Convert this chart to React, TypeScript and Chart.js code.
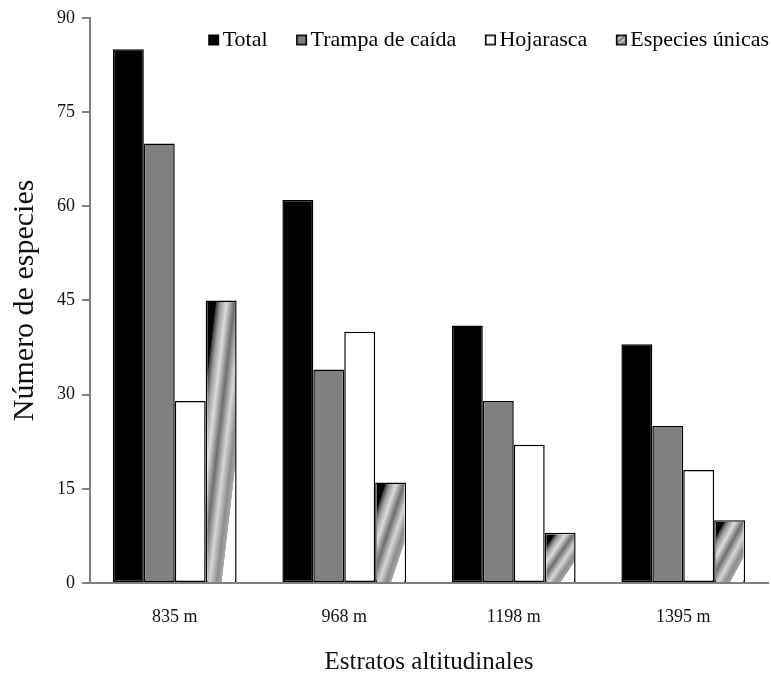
import React, { useEffect, useRef } from 'react';
import { Chart, registerables } from 'chart.js';

Chart.register(...registerables);

// ---- data ----
const categories = ['835 m', '968 m', '1198 m', '1395 m'];
const seriesNames = ['Total', 'Trampa de caída', 'Hojarasca', 'Especies únicas'];
const totalValues = [85, 61, 41, 38];
const trampaValues = [70, 34, 29, 25];
const hojarascaValues = [29, 40, 22, 18];
const unicasValues = [45, 16, 8, 10];
const yTickValues = [0, 15, 30, 45, 60, 75, 90];
const yTitle = 'Número de especies';
const xTitle = 'Estratos altitudinales';

const FONT = "'Liberation Serif', 'Times New Roman', Times, serif";
const AXIS_GRAY = '#808080';
const FILLS = ['#000000', '#808080', '#ffffff', '#ffffff'];

function paintStripe(ctx: CanvasRenderingContext2D, left: number, top: number, w: number, h: number) {
  if (w <= 0 || h <= 0) return;
  ctx.save();
  ctx.beginPath();
  ctx.rect(left, top, w, h);
  ctx.clip();
  ctx.translate(left, top);
  ctx.scale(w, h);
  const g = ctx.createLinearGradient(0, 0, 0.914, 1.073);
  g.addColorStop(0, '#000000');
  g.addColorStop(0.14, '#050505');
  g.addColorStop(0.15, '#3a3a3a');
  g.addColorStop(0.22, '#9a9a9a');
  g.addColorStop(0.32, '#dcdcdc');
  g.addColorStop(0.45, '#6e6e6e');
  g.addColorStop(0.58, '#d6d6d6');
  g.addColorStop(0.7, '#8c8c8c');
  g.addColorStop(0.775, '#a8a8a8');
  g.addColorStop(0.785, '#ffffff');
  g.addColorStop(1, '#ffffff');
  ctx.fillStyle = g;
  ctx.fillRect(0, 0, 1, 1);
  ctx.restore();
}

function makeLegendImage(i: number): HTMLCanvasElement {
  const c = document.createElement('canvas');
  c.width = 19;
  c.height = 13;
  const x = c.getContext('2d') as CanvasRenderingContext2D;
  const bx = 7, by = 1, s = 11;
  if (i === 3) {
    paintStripe(x, bx, by, s, s);
  } else {
    x.fillStyle = FILLS[i];
    x.fillRect(bx, by, s, s);
  }
  x.strokeStyle = '#000';
  x.lineWidth = 1.6;
  x.strokeRect(bx + 0.8, by + 0.8, s - 1.6, s - 1.6);
  return c;
}

const stripePlugin = {
  id: 'stripeBars',
  afterDatasetDraw(chart: any, args: any) {
    if (args.index !== 3) return;
    const ctx = chart.ctx as CanvasRenderingContext2D;
    const bw = 1.5;
    args.meta.data.forEach((el: any) => {
      const p = el.getProps(['x', 'y', 'base', 'width'], true);
      const left = p.x - p.width / 2;
      const top = Math.min(p.y, p.base);
      const h = Math.abs(p.base - p.y);
      paintStripe(ctx, left + bw, top + bw, p.width - 2 * bw, h - bw);
    });
  },
};

const LEGEND_PAD = 30;
const legendPlacer = {
  id: 'legendPlacer',
  afterLayout(chart: any) {
    const lg = chart.legend;
    if (!lg) return;
    lg.top = -1;
    lg.bottom = 80;
    lg.height = 81;
    lg.right = chart.chartArea.right + 1 + LEGEND_PAD;
    lg.width = lg.right - lg.left;
  },
};

export default function App() {
  const ref = useRef<HTMLCanvasElement | null>(null);

  useEffect(() => {
    if (!ref.current) return;
    const legendImages = seriesNames.map((_, i) => makeLegendImage(i));
    const chart = new Chart(ref.current, {
      type: 'bar',
      data: {
        labels: categories,
        datasets: [
          { label: seriesNames[0], data: totalValues, backgroundColor: FILLS[0] },
          { label: seriesNames[1], data: trampaValues, backgroundColor: FILLS[1] },
          { label: seriesNames[2], data: hojarascaValues, backgroundColor: FILLS[2] },
          { label: seriesNames[3], data: unicasValues, backgroundColor: FILLS[3] },
        ].map((d) => ({
          ...d,
          borderColor: '#000000',
          borderWidth: 1.5,
          borderSkipped: false,
          categoryPercentage: 0.73,
          barPercentage: 1.0,
        })),
      },
      options: {
        responsive: false,
        animation: false,
        devicePixelRatio: 1,
        layout: { padding: { top: 16, left: 0, right: 3, bottom: 0 } },
        plugins: {
          tooltip: { enabled: false },
          legend: {
            display: true,
            position: 'top',
            align: 'end',
            maxHeight: 1,
            labels: {
              usePointStyle: true,
              pointStyleWidth: 2,
              padding: LEGEND_PAD,
              color: '#111111',
              font: { family: FONT, size: 22 },
              generateLabels: () =>
                seriesNames.map((name, i) => ({
                  text: name,
                  pointStyle: legendImages[i],
                  fillStyle: FILLS[i],
                  strokeStyle: '#000',
                  lineWidth: 0,
                  hidden: false,
                  datasetIndex: i,
                })),
            },
          },
        },
        scales: {
          x: {
            afterFit: (s: any) => {
              s.height = 107;
            },
            grid: { display: false, drawTicks: false },
            border: { display: true, color: AXIS_GRAY, width: 2 },
            ticks: {
              padding: 23,
              color: '#111111',
              font: { family: FONT, size: 18 },
            },
            title: {
              display: true,
              text: xTitle,
              color: '#111111',
              font: { family: FONT, size: 25 },
              padding: { top: 0, bottom: 13 },
            },
          },
          y: {
            min: 0,
            max: 90,
            afterFit: (s: any) => {
              s.width = 90;
            },
            afterBuildTicks: (s: any) => {
              s.ticks = yTickValues.map((v) => ({ value: v }));
            },
            grid: {
              display: true,
              drawOnChartArea: false,
              drawTicks: true,
              tickLength: 8,
              color: AXIS_GRAY,
              lineWidth: 2,
            },
            border: { display: true, color: AXIS_GRAY, width: 2 },
            ticks: {
              padding: 7,
              color: '#111111',
              font: { family: FONT, size: 18 },
            },
            title: {
              display: true,
              text: yTitle,
              color: '#111111',
              font: { family: FONT, size: 30 },
              padding: { top: 7, bottom: 0 },
            },
          },
        },
      },
      plugins: [stripePlugin, legendPlacer],
    });
    return () => chart.destroy();
  }, []);

  return (
    <div style={{ position: 'absolute', left: 0, top: 0, width: 771, height: 690, background: '#ffffff' }}>
      <canvas ref={ref} width={771} height={690} style={{ display: 'block' }} />
    </div>
  );
}
